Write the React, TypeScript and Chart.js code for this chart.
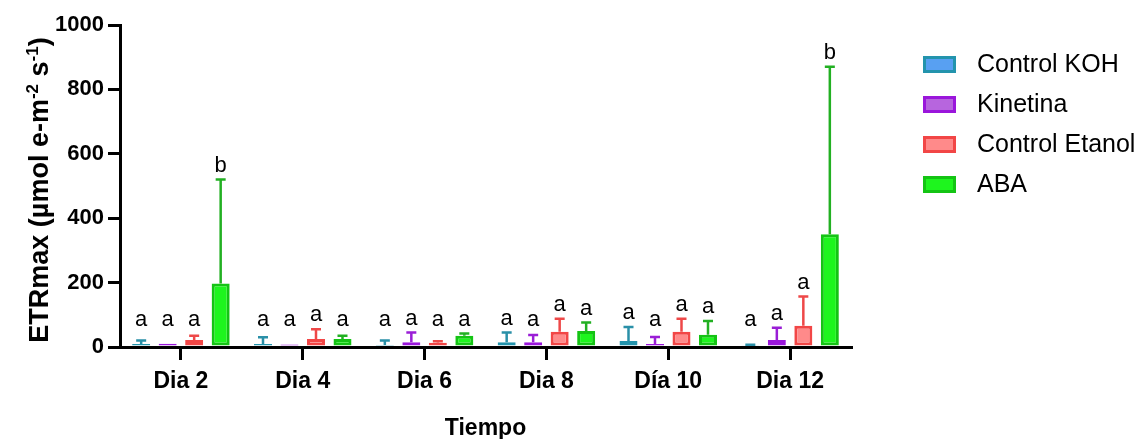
import React, { useEffect, useRef } from "react";
import { Chart, registerables } from "chart.js";

Chart.register(...registerables);

const categories = ["Dia 2", "Dia 4", "Dia 6", "Dia 8", "Día 10", "Dia 12"];
const seriesNames = ["Control KOH", "Kinetina", "Control Etanol", "ABA"];

const kohMean = [9, 9, 6, 15, 19, 4];
const kohSd = [11, 21, 14, 30, 43, 3];
const kinMean = [10, 8, 15, 15, 9, 22];
const kinSd = [0, 0, 30, 22, 22, 38];
const etaMean = [22, 25, 13, 47, 47, 66];
const etaSd = [13, 30, 5, 41, 41, 91];
const abaMean = [197, 25, 35, 50, 38, 350];
const abaSd = [323, 10, 7, 26, 43, 520];

const kohLetters = ["a", "a", "a", "a", "a", "a"];
const kinLetters = ["a", "a", "a", "a", "a", "a"];
const etaLetters = ["a", "a", "a", "a", "a", "a"];
const abaLetters = ["b", "a", "a", "a", "a", "b"];

const yTicks = [0, 200, 400, 600, 800, 1000];

const FONT = "'Liberation Sans', Arial, sans-serif";

const fills = ["#58a0f2", "#b765de", "#ff8a8a", "#1ef51e"];
const borders = ["#2394ad", "#9a16db", "#f24646", "#14c414"];
const errColors = ["#2a90a8", "#9a1ed6", "#ee4848", "#22b022"];

const means = [kohMean, kinMean, etaMean, abaMean];
const sds = [kohSd, kinSd, etaSd, abaSd];
const letters = [kohLetters, kinLetters, etaLetters, abaLetters];

const errorBarPlugin = {
  id: "errorBars",
  afterDatasetsDraw(chart: any) {
    const ctx = chart.ctx;
    const y = chart.scales.y;
    const base = y.getPixelForValue(0);
    chart.data.datasets.forEach((ds: any, di: number) => {
      const meta = chart.getDatasetMeta(di);
      meta.data.forEach((bar: any, i: number) => {
        const top = y.getPixelForValue(means[di][i] + sds[di][i]);
        ctx.save();
        if (sds[di][i] > 0) {
          ctx.strokeStyle = errColors[di];
          ctx.lineWidth = 2.5;
          ctx.beginPath();
          ctx.moveTo(bar.x, bar.y);
          ctx.lineTo(bar.x, top);
          ctx.moveTo(bar.x - 5, top);
          ctx.lineTo(bar.x + 5, top);
          ctx.stroke();
        }
        ctx.fillStyle = "#000";
        ctx.font = `22px ${FONT}`;
        ctx.textAlign = "center";
        ctx.textBaseline = "middle";
        const ly = Math.min(top - 14, base - 27);
        ctx.fillText(letters[di][i], bar.x, ly);
        ctx.restore();
      });
    });
  },
};

const legendPlugin = {
  id: "customLegend",
  afterDraw(chart: any) {
    const ctx = chart.ctx;
    ctx.save();
    seriesNames.forEach((name, i) => {
      const cy = 64 + i * 40;
      ctx.fillStyle = fills[i];
      ctx.fillRect(923, cy - 8, 33, 17);
      ctx.strokeStyle = borders[i];
      ctx.lineWidth = 3;
      ctx.strokeRect(924.5, cy - 6.5, 30, 14);
      ctx.fillStyle = "#000";
      ctx.font = `25px ${FONT}`;
      ctx.textAlign = "left";
      ctx.textBaseline = "middle";
      ctx.fillText(name, 977, cy + 1);
    });
    ctx.restore();
  },
};

const yTitlePlugin = {
  id: "yTitle",
  afterDraw(chart: any) {
    const ctx = chart.ctx;
    const segs: [string, boolean][] = [
      ["ETRmax (", false],
      ["µ", false],
      ["mol e-m", false],
      ["-2", true],
      [" s", false],
      ["-1", true],
      [")", false],
    ];
    const main = `bold 27px ${FONT}`;
    const sup = `bold 17px ${FONT}`;
    ctx.save();
    let total = 0;
    segs.forEach(([t, s]) => {
      ctx.font = s ? sup : main;
      total += ctx.measureText(t).width;
    });
    ctx.translate(39, 190);
    ctx.rotate(-Math.PI / 2);
    ctx.fillStyle = "#000";
    ctx.textBaseline = "alphabetic";
    ctx.textAlign = "left";
    let x = -total / 2;
    segs.forEach(([t, s]) => {
      ctx.font = s ? sup : main;
      ctx.fillText(t, x, s ? -1 : 9);
      x += ctx.measureText(t).width;
    });
    ctx.restore();
  },
};

export default function App() {
  const ref = useRef<HTMLCanvasElement>(null);
  useEffect(() => {
    document.body.style.margin = "0";
    const canvas = ref.current!;
    const chart = new Chart(canvas, {
      type: "bar",
      data: {
        labels: categories,
        datasets: seriesNames.map((n, i) => ({
          label: n,
          data: means[i],
          backgroundColor: fills[i],
          borderColor: borders[i],
          borderWidth: 3,
          borderSkipped: false,
          categoryPercentage: 0.87,
          barPercentage: 0.68,
        })),
      },
      options: {
        animation: false,
        responsive: false,
        devicePixelRatio: 1,
        layout: { padding: { top: 25, right: 291, left: 0, bottom: 0 } },
        plugins: { legend: { display: false }, tooltip: { enabled: false } },
        scales: {
          x: {
            afterFit: (s: any) => {
              s.height = 92;
            },
            grid: {
              offset: false,
              drawOnChartArea: false,
              drawTicks: true,
              tickLength: 13,
              lineWidth: 3,
              color: "#000",
            },
            border: { display: true, color: "#000", width: 3 },
            ticks: {
              color: "#000",
              padding: 8,
              font: { family: FONT, size: 23, weight: "bold" },
            },
            title: {
              display: true,
              text: "Tiempo",
              color: "#000",
              padding: { top: 0, bottom: -1 },
              font: { family: FONT, size: 23, weight: "bold", lineHeight: 1.0 },
            },
          },
          y: {
            min: 0,
            max: 1000,
            afterFit: (s: any) => {
              s.width = 120;
            },
            afterBuildTicks: (s: any) => {
              s.ticks = yTicks.map((v) => ({ value: v }));
            },
            grid: {
              drawOnChartArea: false,
              drawTicks: true,
              tickLength: 12,
              lineWidth: 3,
              color: "#000",
            },
            border: { display: true, color: "#000", width: 3 },
            ticks: {
              color: "#000",
              padding: 4,
              callback: (v: any) => String(v),
              font: { family: FONT, size: 22, weight: "bold" },
            },
          },
        },
      },
      plugins: [errorBarPlugin, legendPlugin, yTitlePlugin],
    });
    return () => chart.destroy();
  }, []);
  return <canvas ref={ref} width={1142} height={439} style={{ display: "block" }} />;
}
